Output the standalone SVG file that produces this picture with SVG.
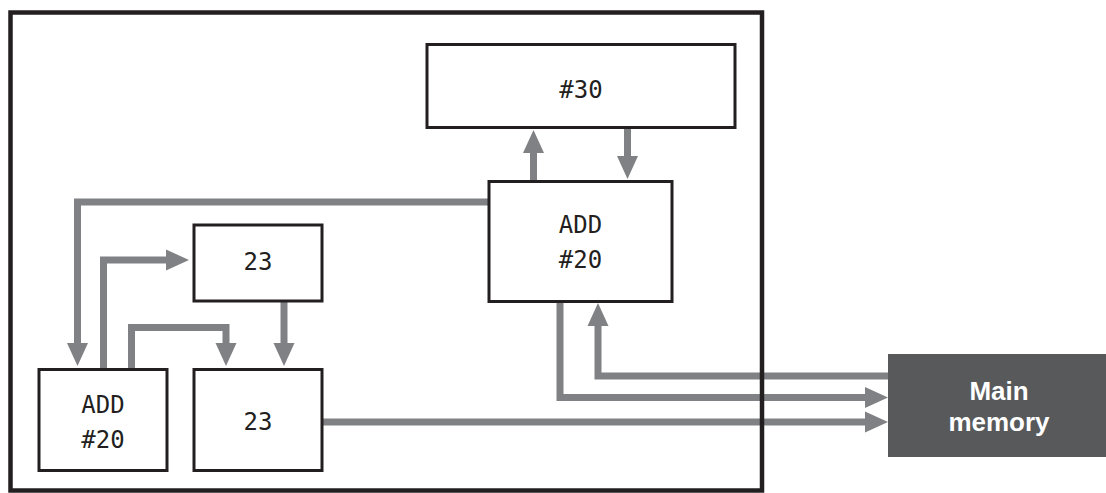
<svg xmlns="http://www.w3.org/2000/svg" width="1106" height="493" viewBox="0 0 1106 493">
<style>
.box{fill:#fff;stroke:#231f20;stroke-width:3}
.t{font-family:"DejaVu Sans Mono","Liberation Mono",monospace;font-size:24px;fill:#231f20;text-anchor:middle}
.c{fill:none;stroke:#808184;stroke-width:7}
.mm{font-family:"Liberation Sans",Arial,sans-serif;font-weight:bold;font-size:26px;fill:#fff;text-anchor:middle}
</style>
<defs>
<marker id="ah" markerUnits="userSpaceOnUse" markerWidth="24" markerHeight="22" refX="0" refY="11" orient="auto" overflow="visible">
<path d="M0,0.5 L23,11 L0,21.5 z" fill="#808184"/>
</marker>
</defs>
<g id="connectors">
<path class="c" d="M488,202 H77.5 V343" marker-end="url(#ah)"/>
<path class="c" d="M103.5,369 V260 H166" marker-end="url(#ah)"/>
<path class="c" d="M131.5,369 V327.5 H226 V343" marker-end="url(#ah)"/>
<path class="c" d="M284,302 V343" marker-end="url(#ah)"/>
<path class="c" d="M533.5,180 V153" marker-end="url(#ah)"/>
<path class="c" d="M627.5,128 V156" marker-end="url(#ah)"/>
<path class="c" d="M888,376 H598 V326" marker-end="url(#ah)"/>
<path class="c" d="M560,303 V397.5 H865" marker-end="url(#ah)"/>
<path class="c" d="M323,422 H865" marker-end="url(#ah)"/>
</g>
<rect id="frame" x="10.5" y="12.5" width="751.5" height="478" fill="none" stroke="#231f20" stroke-width="4.5"/>
<g id="n30">
<rect class="box" x="427" y="44.5" width="308" height="83"/>
<text class="t" x="581" y="98">#30</text>
</g>
<g id="addRight">
<rect class="box" x="489" y="181.5" width="183" height="120"/>
<text class="t" x="580.5" y="233">ADD</text>
<text class="t" x="580.5" y="268">#20</text>
</g>
<g id="top23">
<rect class="box" x="194" y="225" width="128" height="76"/>
<text class="t" x="258" y="270">23</text>
</g>
<g id="addLeft">
<rect class="box" x="39" y="369.5" width="128" height="101"/>
<text class="t" x="103" y="413">ADD</text>
<text class="t" x="103" y="448">#20</text>
</g>
<g id="bottom23">
<rect class="box" x="194" y="369.5" width="128" height="101"/>
<text class="t" x="258" y="430">23</text>
</g>
<g id="mainMemory">
<rect x="888" y="354" width="218" height="103" fill="#58595b"/>
<text class="mm" x="999" y="400">Main</text>
<text class="mm" x="999" y="431">memory</text>
</g>
</svg>
